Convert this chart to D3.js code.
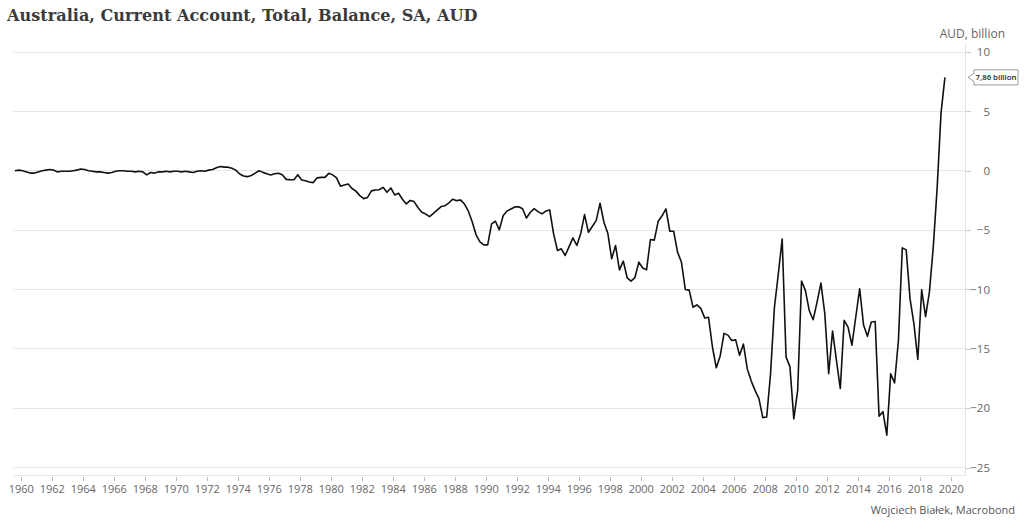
<!DOCTYPE html>
<html>
<head>
<meta charset="utf-8">
<script src="https://cdn.jsdelivr.net/npm/d3@7"></script>
<style>
  html, body { margin: 0; padding: 0; background: #ffffff; }
  svg { display: block; }
</style>
</head>
<body>
<script>
// ---- Data (quarterly, seasonally adjusted, AUD billion), starting 1959 Q3 ----
const startYear = 1959;
const startQuarter = 3;
const balance = [
  /*1959*/ 0.0, 0.05,
  /*1960*/ 0.0, -0.1, -0.2, -0.2,
  /*1961*/ -0.1, 0.0, 0.05, 0.1,
  /*1962*/ 0.05, -0.1, -0.05, -0.05,
  /*1963*/ -0.05, 0.0, 0.05, 0.15,
  /*1964*/ 0.1, 0.0, -0.05, -0.1,
  /*1965*/ -0.1, -0.15, -0.2, -0.15,
  /*1966*/ -0.05, 0.0, 0.0, -0.05,
  /*1967*/ -0.05, -0.1, -0.05, -0.1,
  /*1968*/ -0.35, -0.15, -0.2, -0.1,
  /*1969*/ -0.1, -0.05, -0.1, -0.05,
  /*1970*/ -0.05, -0.1, -0.05, -0.1,
  /*1971*/ -0.15, -0.05, 0.0, -0.05,
  /*1972*/ 0.05, 0.1, 0.25, 0.35,
  /*1973*/ 0.3, 0.3, 0.2, 0.05,
  /*1974*/ -0.28, -0.45, -0.5, -0.4,
  /*1975*/ -0.2, 0.0, -0.14, -0.25,
  /*1976*/ -0.36, -0.25, -0.22, -0.34,
  /*1977*/ -0.73, -0.75, -0.76, -0.34,
  /*1978*/ -0.78, -0.84, -0.95, -1.0,
  /*1979*/ -0.6, -0.56, -0.56, -0.22,
  /*1980*/ -0.35, -0.6, -1.3, -1.2,
  /*1981*/ -1.12, -1.5, -1.72, -2.1,
  /*1982*/ -2.35, -2.25, -1.7, -1.62,
  /*1983*/ -1.6, -1.4, -1.82, -1.45,
  /*1984*/ -2.04, -1.9, -2.4, -2.8,
  /*1985*/ -2.5, -2.6, -3.1, -3.5,
  /*1986*/ -3.65, -3.87, -3.6, -3.3,
  /*1987*/ -3.02, -2.95, -2.7, -2.4,
  /*1988*/ -2.52, -2.46, -2.8, -3.4,
  /*1989*/ -4.3, -5.4, -6.0, -6.25,
  /*1990*/ -6.25, -4.48, -4.26, -4.98,
  /*1991*/ -3.78, -3.4, -3.22, -3.05,
  /*1992*/ -3.03, -3.2, -3.98, -3.5,
  /*1993*/ -3.2, -3.45, -3.64, -3.4,
  /*1994*/ -3.3, -5.3, -6.72, -6.58,
  /*1995*/ -7.14, -6.4, -5.66, -6.3,
  /*1996*/ -5.3, -3.7, -5.18, -4.7,
  /*1997*/ -4.2, -2.74, -4.34, -5.26,
  /*1998*/ -7.42, -6.3, -8.35, -7.62,
  /*1999*/ -9.02, -9.3, -9.0, -7.7,
  /*2000*/ -8.2, -8.35, -5.8, -5.85,
  /*2001*/ -4.26, -3.8, -3.22, -5.1,
  /*2002*/ -5.1, -6.86, -7.7, -10.0,
  /*2003*/ -10.06, -11.5, -11.3, -11.6,
  /*2004*/ -12.4, -12.35, -14.85, -16.6,
  /*2005*/ -15.6, -13.7, -13.85, -14.3,
  /*2006*/ -14.25, -15.55, -14.6, -16.7,
  /*2007*/ -17.7, -18.5, -19.2, -20.8,
  /*2008*/ -20.75, -17.1, -11.5, -8.7,
  /*2009*/ -5.75, -15.7, -16.5, -20.9,
  /*2010*/ -18.5, -9.3, -10.1, -11.8,
  /*2011*/ -12.55, -11.07, -9.47, -12.04,
  /*2012*/ -17.1, -13.5, -15.97, -18.35,
  /*2013*/ -12.6, -13.17, -14.7, -12.3,
  /*2014*/ -9.94, -13.0, -13.95, -12.74,
  /*2015*/ -12.7, -20.67, -20.3, -22.27,
  /*2016*/ -17.1, -17.87, -14.3, -6.5,
  /*2017*/ -6.67, -10.8, -12.9, -15.9,
  /*2018*/ -10.03, -12.3, -10.2, -6.4,
  /*2019*/ -1.4, 4.9, 7.86
];
const xTickYears = d3.range(1960, 2021, 2);
const yTicks = [10, 5, 0, -5, -10, -15, -20, -25];
const titleText = "Australia, Current Account, Total, Balance, SA, AUD";
const unitText = "AUD, billion";
const sourceText = "Wojciech Białek, Macrobond";
const lastLabelText = "7,86 billion";

// ---- Build ----
const W = 1024, H = 524;
const plot = { left: 13, right: 965, top: 52, bottom: 467.5 };

const data = balance.map((v, i) => {
  const q = startQuarter - 1 + i;
  return { t: startYear + Math.floor(q / 4) + ((q % 4) + 0.5) / 4, v: v };
});

const svg = d3.select("body").append("svg").attr("width", W).attr("height", H);

const x = d3.scaleLinear().domain([1959.5, 2020.92]).range([plot.left, plot.right]);
const y = d3.scaleLinear().domain([-25, 10]).range([plot.bottom, plot.top]);

const axisFont = "'Open Sans', 'Noto Sans', sans-serif";

// Title
const title = svg.append("text")
  .attr("x", 7).attr("y", 21)
  .attr("font-family", "'DejaVu Serif', serif")
  .attr("font-weight", "bold")
  .attr("font-size", 16)
  .attr("fill", "#3a3a3a")
  .text(titleText);
const tl = title.node().getComputedTextLength();
title.attr("font-size", 16 * 471 / tl);

// Gridlines
svg.append("g").selectAll("line").data(yTicks).join("line")
  .attr("x1", plot.left).attr("x2", plot.right)
  .attr("y1", d => y(d)).attr("y2", d => y(d))
  .attr("stroke", "#e6e6e6").attr("stroke-width", 1)
  .attr("shape-rendering", "crispEdges");

// Right axis
const yAxis = d3.axisRight(y).tickValues(yTicks).tickSize(6).tickSizeOuter(0).tickFormat(d3.format("d"));
const gy = svg.append("g").attr("transform", `translate(${plot.right},0)`).call(yAxis);
gy.select(".domain").remove();
gy.append("line").attr("x1", 0).attr("x2", 0).attr("y1", 44).attr("y2", 475)
  .attr("stroke", "#e3e3e3").attr("shape-rendering", "crispEdges");
gy.selectAll(".tick line").attr("stroke", "#cccccc").attr("shape-rendering", "crispEdges");
gy.selectAll(".tick text")
  .attr("x", 25).attr("text-anchor", "end")
  .attr("font-family", axisFont).attr("font-size", 11.5).attr("fill", "#666");

svg.append("text")
  .attr("x", 1005).attr("y", 38).attr("text-anchor", "end")
  .attr("font-family", axisFont).attr("font-size", 12).attr("fill", "#666")
  .text(unitText);

// Bottom axis
const xAxis = d3.axisBottom(x).tickValues(xTickYears).tickSize(4).tickSizeOuter(0).tickFormat(d3.format("d"));
const gx = svg.append("g").attr("transform", `translate(0,475)`).call(xAxis);
gx.select(".domain").attr("stroke", "#e6e6e6").attr("shape-rendering", "crispEdges");
gx.selectAll(".tick line").attr("stroke", "#bbbbbb").attr("shape-rendering", "crispEdges").attr("y1", 2).attr("y2", 6);
gx.selectAll(".tick text")
  .attr("y", 10)
  .attr("font-family", axisFont).attr("font-size", 11).attr("fill", "#666");

// Line
const line = d3.line().x(d => x(d.t)).y(d => y(d.v));
svg.append("path").datum(data)
  .attr("d", line)
  .attr("fill", "none")
  .attr("stroke", "#111")
  .attr("stroke-width", 1.6)
  .attr("stroke-linejoin", "round");

// Last value label
const last = data[data.length - 1];
const ly = y(last.v);
const bx = 974, bw = 44, bh = 15, tip = plot.right + 3;
svg.append("path")
  .attr("d", `M${tip},${ly} L${bx},${ly - 4} L${bx},${ly - bh / 2} L${bx + bw},${ly - bh / 2} L${bx + bw},${ly + bh / 2} L${bx},${ly + bh / 2} L${bx},${ly + 4} Z`)
  .attr("fill", "#fff").attr("stroke", "#9a9a9a").attr("stroke-width", 1);
svg.append("text")
  .attr("x", bx + bw / 2).attr("y", ly).attr("dy", "0.35em")
  .attr("text-anchor", "middle")
  .attr("font-family", axisFont).attr("font-size", 7.8).attr("font-weight", 600).attr("fill", "#222")
  .text(lastLabelText);

// Source
svg.append("text")
  .attr("x", 1015).attr("y", 514).attr("text-anchor", "end")
  .attr("font-family", axisFont).attr("font-size", 11).attr("fill", "#555")
  .text(sourceText);
</script>
</body>
</html>
